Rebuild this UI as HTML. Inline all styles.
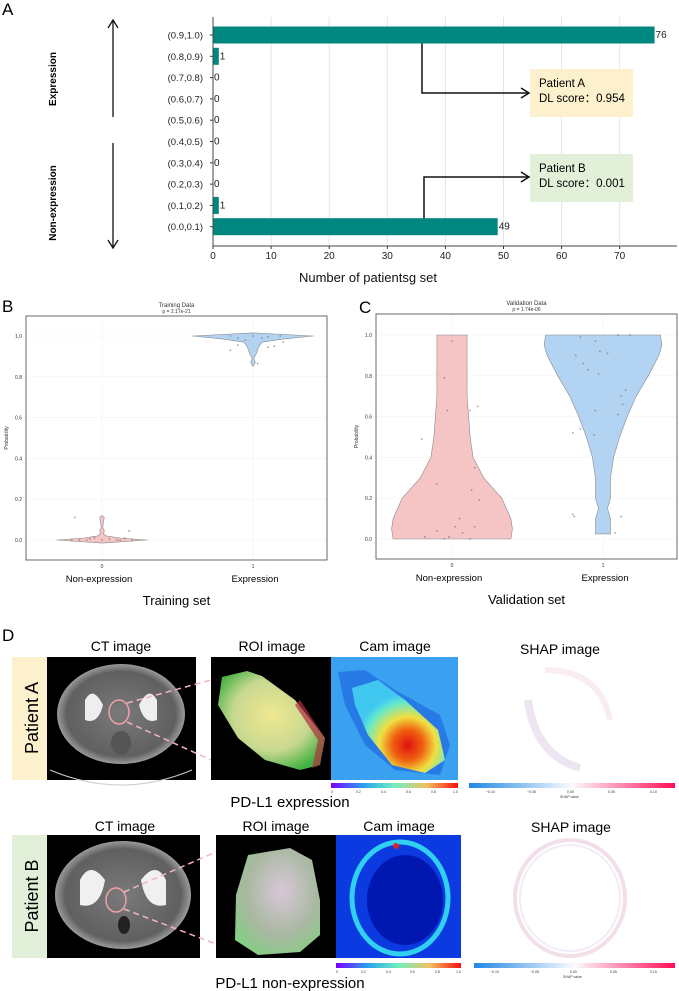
<!DOCTYPE html>
<html><head><meta charset="utf-8"><style>
body{margin:0;background:#fff;}
svg{display:block;font-family:"Liberation Sans",sans-serif;}
</style></head><body>
<svg id="fig" width="679" height="991" viewBox="0 0 679 991" xmlns="http://www.w3.org/2000/svg">
<defs>
<linearGradient id="camcb" x1="0" x2="1"><stop offset="0" stop-color="#7a00ff"/><stop offset="0.25" stop-color="#2aa0f0"/><stop offset="0.5" stop-color="#70f0c0"/><stop offset="0.75" stop-color="#f0c060"/><stop offset="1" stop-color="#ff1010"/></linearGradient>
<linearGradient id="shapcb" x1="0" x2="1"><stop offset="0" stop-color="#1e88e5"/><stop offset="0.5" stop-color="#fbfbff"/><stop offset="1" stop-color="#ff0d57"/></linearGradient>
<radialGradient id="roiA" cx="0.5" cy="0.45" r="0.6"><stop offset="0" stop-color="#f0e890"/><stop offset="0.6" stop-color="#c8d890"/><stop offset="1" stop-color="#40b040"/></radialGradient>
<radialGradient id="roiB" cx="0.55" cy="0.4" r="0.7"><stop offset="0" stop-color="#d8c8d8"/><stop offset="0.6" stop-color="#a8b8a0"/><stop offset="1" stop-color="#80d080"/></radialGradient>
<radialGradient id="camA" cx="0.6" cy="0.7" r="0.55"><stop offset="0" stop-color="#e01010"/><stop offset="0.3" stop-color="#f06010"/><stop offset="0.55" stop-color="#f0e040"/><stop offset="0.85" stop-color="#60e8d0"/><stop offset="1" stop-color="#40c8f0"/></radialGradient>
<radialGradient id="ctbody" cx="0.5" cy="0.5" r="0.5"><stop offset="0" stop-color="#7a7a7a"/><stop offset="0.85" stop-color="#606060"/><stop offset="1" stop-color="#9a9a9a"/></radialGradient>
</defs>
<g id="panelA"></g>
<g id="panelB"></g>
<g id="panelC"></g>
<g id="panelD">
  <text x="2" y="641" font-size="17">D</text>
  <text x="121" y="651" font-size="14" text-anchor="middle">CT image</text>
  <text x="272" y="651" font-size="14" text-anchor="middle">ROI image</text>
  <text x="395" y="651" font-size="14" text-anchor="middle">Cam image</text>
  <text x="560" y="654" font-size="14" text-anchor="middle">SHAP image</text>
  <rect x="12" y="657" width="35" height="123" fill="#fdf0cc"/>
  <text transform="translate(38,718) rotate(-90)" font-size="18" text-anchor="middle">Patient A</text>
  <g>
    <rect x="47" y="657" width="149" height="123" fill="#000"/>
    <ellipse cx="121" cy="714" rx="64" ry="50" fill="url(#ctbody)"/>
    <path d="M85 700 q8 -15 18 5 q-5 20 -18 15z M157 700 q-8 -15 -18 5 q5 20 18 15z" fill="#eee"/>
    <ellipse cx="121" cy="743" rx="10" ry="12" fill="#555"/>
    <path d="M50 770 Q121 800 192 770" stroke="#ccc" fill="none"/>
    <ellipse cx="119" cy="712" rx="10" ry="12" fill="none" stroke="#f0a0a8" stroke-width="1.5"/>
  </g>
  <line x1="127" y1="703" x2="211" y2="680" stroke="#f4b4bc" stroke-width="1.5" stroke-dasharray="6,4"/>
  <line x1="127" y1="722" x2="211" y2="760" stroke="#f4b4bc" stroke-width="1.5" stroke-dasharray="6,4"/>
  <g>
    <rect x="211" y="657" width="120" height="123" fill="#000"/>
    <path d="M222 677 L247 671 L262 676 L295 700 L325 738 L320 765 L300 770 L265 760 L238 738 L218 705 Z" fill="url(#roiA)"/>
    <path d="M300 700 L325 738 L320 765 L312 768 L318 740 L295 705Z" fill="#b03040" opacity="0.7"/>
  </g>
  <g>
    <rect x="331" y="657" width="127" height="123" fill="#3aa0f0"/>
    <path d="M338 672 L365 670 L395 690 L440 715 L450 745 L440 775 L395 770 L365 745 L345 705Z" fill="#1a60e0" opacity="0.6"/>
    <path d="M352 688 L378 680 L405 700 L438 730 L445 760 L425 773 L392 765 L368 735 L355 705 Z" fill="url(#camA)"/>
  </g>
  <rect x="331" y="783" width="127" height="5" fill="url(#camcb)"/>
  <g font-size="3.5" fill="#333"><text x="331" y="793">0</text><text x="356" y="793">0.2</text><text x="381" y="793">0.4</text><text x="406" y="793">0.6</text><text x="431" y="793">0.8</text><text x="453" y="793">1.0</text></g>
  <g>
    <path d="M528 700 Q535 755 580 768" stroke="#c8a8d8" stroke-width="8" fill="none" opacity="0.3"/>
    <path d="M545 670 Q600 670 610 720" stroke="#ecc0d4" stroke-width="6" fill="none" opacity="0.3"/>
  </g>
  <rect x="469" y="783" width="206" height="5" fill="url(#shapcb)"/>
  <g font-size="3.5" fill="#333"><text x="486" y="793">−0.10</text><text x="527" y="793">−0.05</text><text x="567" y="793">0.00</text><text x="608" y="793">0.05</text><text x="650" y="793">0.10</text><text x="560" y="798">SHAP value</text></g>
  <text x="290" y="807" font-size="15" text-anchor="middle">PD-L1 expression</text>
  <text x="125" y="831" font-size="14" text-anchor="middle">CT image</text>
  <text x="276" y="831" font-size="14" text-anchor="middle">ROI image</text>
  <text x="399" y="831" font-size="14" text-anchor="middle">Cam image</text>
  <text x="571" y="832" font-size="14" text-anchor="middle">SHAP image</text>
  <rect x="12" y="835" width="35" height="123" fill="#e2f0d9"/>
  <text transform="translate(38,896) rotate(-90)" font-size="18" text-anchor="middle">Patient B</text>
  <g>
    <rect x="47" y="835" width="153" height="123" fill="#000"/>
    <ellipse cx="123" cy="895" rx="68" ry="54" fill="url(#ctbody)"/>
    <path d="M80 880 q10 -20 25 0 q-5 30 -25 25z M166 880 q-10 -20 -25 0 q5 30 25 25z" fill="#f0f0f0"/>
    <ellipse cx="124" cy="925" rx="6" ry="9" fill="#222"/>
    <ellipse cx="116" cy="900" rx="10" ry="12" fill="none" stroke="#f0a0a8" stroke-width="1.5"/>
  </g>
  <line x1="124" y1="892" x2="216" y2="852" stroke="#f4b4bc" stroke-width="1.5" stroke-dasharray="6,4"/>
  <line x1="124" y1="909" x2="216" y2="944" stroke="#f4b4bc" stroke-width="1.5" stroke-dasharray="6,4"/>
  <g>
    <rect x="216" y="835" width="120" height="123" fill="#000"/>
    <path d="M248 855 L290 848 L312 860 L320 900 L320 935 L300 952 L258 955 L235 940 L236 895 Z" fill="url(#roiB)"/>
  </g>
  <g>
    <rect x="336" y="835" width="125" height="123" fill="#0a3ae0"/>
    <ellipse cx="400" cy="898" rx="48" ry="56" fill="none" stroke="#30d0f0" stroke-width="5"/>
    <ellipse cx="405" cy="900" rx="38" ry="45" fill="#0018b0"/>
    <circle cx="396" cy="846" r="3" fill="#e02020"/>
  </g>
  <rect x="336" y="963" width="125" height="5" fill="url(#camcb)"/>
  <g font-size="3.5" fill="#333"><text x="336" y="973">0</text><text x="361" y="973">0.2</text><text x="386" y="973">0.4</text><text x="410" y="973">0.6</text><text x="435" y="973">0.8</text><text x="456" y="973">1.0</text></g>
  <g>
    <ellipse cx="570" cy="898" rx="55" ry="58" fill="none" stroke="#e8c0d4" stroke-width="4" opacity="0.5"/>
    <ellipse cx="570" cy="898" rx="50" ry="53" fill="none" stroke="#e0d0e8" stroke-width="2" opacity="0.4"/>
  </g>
  <rect x="474" y="963" width="201" height="5" fill="url(#shapcb)"/>
  <g font-size="3.5" fill="#333"><text x="490" y="973">−0.10</text><text x="530" y="973">−0.05</text><text x="570" y="973">0.00</text><text x="610" y="973">0.05</text><text x="650" y="973">0.10</text><text x="563" y="978">SHAP value</text></g>
  <text x="290" y="988" font-size="15" text-anchor="middle">PD-L1 non-expression</text>
</g>
</svg>
<script>
const binLabels = ["(0.9,1.0)","(0.8,0.9)","(0.7,0.8)","(0.6,0.7)","(0.5,0.6)","(0.4,0.5)","(0.3,0.4)","(0.2,0.3)","(0.1,0.2)","(0.0,0.1)"];
const binCounts = [76,1,0,0,0,0,0,0,1,49];
const xTicksA = [0,10,20,30,40,50,60,70];
const violinLevelsTrain0 = [-0.015,0,0.01,0.02,0.03,0.045,0.06,0.09,0.11,0.12];
const violinWidthsTrain0 = [0,0.3,0.12,0.03,0.01,0.015,0.005,0.01,0.015,0];
const violinLevelsTrain1 = [0.85,0.87,0.89,0.91,0.93,0.95,0.97,0.985,1.0,1.015];
const violinWidthsTrain1 = [0,0.015,0.005,0.02,0.03,0.04,0.06,0.2,0.4,0];
const pointsTrain0 = [0.0,0.0,0.01,0.0,0.005,0.0,0.01,0.0,0.0,0.11,0.045,0.0,0.005];
const jitterTrain0 = [-0.15,-0.1,-0.05,0,0.05,0.1,0.15,0.2,-0.2,-0.18,0.18,0.12,-0.08];
const pointsTrain1 = [1.0,0.99,0.98,1.0,0.995,0.93,0.955,0.945,0.95,0.97,0.865,1.0,0.99];
const jitterTrain1 = [-0.15,-0.1,-0.05,0,0.1,-0.15,-0.1,0.1,0.14,0.2,0.03,0.18,0.06];
const violinLevelsVal0 = [0,0.05,0.1,0.2,0.3,0.4,0.5,0.6,0.7,0.8,0.9,1.0];
const violinWidthsVal0 = [0.39,0.4,0.39,0.33,0.21,0.14,0.12,0.11,0.1,0.1,0.1,0.1];
const violinLevelsVal1 = [0.025,0.1,0.15,0.2,0.3,0.4,0.5,0.6,0.7,0.8,0.9,0.95,1.0];
const violinWidthsVal1 = [0.05,0.05,0.03,0.05,0.05,0.07,0.11,0.16,0.22,0.3,0.37,0.39,0.38];
const pointsVal0 = [0.97,0.79,0.63,0.63,0.65,0.49,0.35,0.27,0.24,0.19,0.1,0.06,0.06,0.04,0.03,0.01,0.01,0.0,0.0];
const jitterVal0 = [0,-0.05,-0.03,0.12,0.17,-0.2,0.15,-0.1,0.13,0.18,0.05,0.02,0.15,-0.1,0.07,-0.18,-0.02,0.12,-0.05];
const pointsVal1 = [1.0,1.0,0.99,0.97,0.92,0.91,0.9,0.86,0.83,0.81,0.73,0.7,0.66,0.63,0.61,0.54,0.52,0.51,0.12,0.11,0.11,0.03];
const jitterVal1 = [0.1,0.18,-0.15,-0.05,-0.02,0.03,-0.18,-0.13,-0.1,-0.03,0.15,0.12,0.13,-0.05,0.1,-0.15,-0.2,-0.06,-0.2,-0.19,0.12,0.08];
const yTicksBC = [0.0,0.2,0.4,0.6,0.8,1.0];

const NS="http://www.w3.org/2000/svg";
function mk(parent,tag,attrs,txt){const e=document.createElementNS(NS,tag);for(const k in attrs)e.setAttribute(k,attrs[k]);if(txt!==undefined)e.textContent=txt;parent.appendChild(e);return e;}

(function(){
  const g=document.getElementById('panelA');
  const x0=213, pxPer=5.81, rowTop=35, rowStep=21.3, barH=17;
  const xA=v=>x0+v*pxPer;
  const yA=i=>rowTop+i*rowStep;
  let t=mk(g,'text',{x:2,y:15,'font-size':17},'A');
  
  
  xTicksA.forEach(v=>{
    const l=mk(g,'line',{x1:xA(v),x2:xA(v),y1:17,y2:246,stroke:'#e4e4e4','stroke-width':1});
    
    
    mk(g,'line',{x1:xA(v),x2:xA(v),y1:246,y2:249,stroke:'#333'});
    const tl=mk(g,'text',{x:xA(v),y:259,'font-size':10,'text-anchor':'middle',fill:'#222'},String(v));
    
    
  });
  binLabels.forEach((lab,i)=>{
    const y=yA(i);
    const tl=mk(g,'text',{x:203,y:y+3.5,'font-size':9.5,'text-anchor':'end',fill:'#222'},lab);
    
    
    mk(g,'line',{x1:210,x2:213,y1:y,y2:y,stroke:'#333'});
    const b=mk(g,'rect',{x:x0,y:y-barH/2,width:Math.max(0,xA(binCounts[i])-x0),height:barH,fill:'#00877f'});
    
    
    const v=mk(g,'text',{x:xA(binCounts[i])+1,y:y+3,'font-size':10,fill:'#222'},String(binCounts[i]));
    
    
  });
  mk(g,'line',{x1:x0,x2:x0,y1:17,y2:246,stroke:'#444','stroke-width':1});
  mk(g,'line',{x1:x0,x2:677,y1:246,y2:246,stroke:'#444','stroke-width':1});
  t=mk(g,'text',{x:368,y:282,'font-size':13,'text-anchor':'middle',fill:'#111'},'Number of patientsg set');
  
  
  mk(g,'path',{d:'M113 117 V21 M108 28 L113 20 L118 28',stroke:'#111','stroke-width':1.3,fill:'none'});
  mk(g,'path',{d:'M113 143 V247 M108 240 L113 248 L118 240',stroke:'#111','stroke-width':1.3,fill:'none'});
  t=mk(g,'text',{transform:'translate(56,79) rotate(-90)','font-size':10,'font-weight':'bold','text-anchor':'middle'},'Expression');
  
  
  t=mk(g,'text',{transform:'translate(56,203) rotate(-90)','font-size':10,'font-weight':'bold','text-anchor':'middle'},'Non-expression');
  
  
  const boxes=[{y:69,fill:'#fdf0cc',a:'Patient A',b:'DL score\uff1a0.954',path:'M422 '+(yA(0)+barH/2)+' V93 H528',ay:93,name:'patient-a-callout'},
               {y:154,fill:'#e2f0d9',a:'Patient B',b:'DL score\uff1a0.001',path:'M424 '+(yA(9)-barH/2)+' V177 H528',ay:177,name:'patient-b-callout'}];
  boxes.forEach(bx=>{
    const cg=mk(g,'g',{});
    
    
    mk(cg,'rect',{x:530,y:bx.y,width:103,height:48,fill:bx.fill});
    mk(cg,'text',{x:539,y:bx.y+18,'font-size':11.5},bx.a);
    mk(cg,'text',{x:539,y:bx.y+33,'font-size':11.5},bx.b);
    mk(cg,'path',{d:bx.path,stroke:'#111','stroke-width':1.5,fill:'none'});
    mk(cg,'path',{d:'M521 '+(bx.ay-5)+' L529 '+bx.ay+' L521 '+(bx.ay+5),stroke:'#111','stroke-width':1.5,fill:'none'});
  });
})();

function violinPanel(gid,cfg){
  const g=document.getElementById(gid);
  const {L,R,T,B,y1,y0,cx0,cx1}=cfg;
  const yS=v=>y0+(y1-y0)*v;
  const xS=v=>cx0+(cx1-cx0)*v;
  let t=mk(g,'text',{x:cfg.labX,y:cfg.labY,'font-size':17},cfg.letter);
  
  
  t=mk(g,'text',{x:(L+R)/2,y:T-9,'font-size':6,'text-anchor':'middle',fill:'#333'},cfg.title);
  
  
  t=mk(g,'text',{x:(L+R)/2,y:T-3,'font-size':5,'text-anchor':'middle',fill:'#333'},cfg.p);
  
  
  yTicksBC.forEach(v=>{
    mk(g,'line',{x1:L,x2:R,y1:yS(v),y2:yS(v),stroke:'#e6e6e6','stroke-width':0.6,'stroke-dasharray':'1,1'});
    const tl=mk(g,'text',{x:L-4,y:yS(v)+2,'font-size':5,'text-anchor':'end',fill:'#333'},v.toFixed(1));
    
    
  });
  [0,1].forEach(c=>{
    mk(g,'line',{x1:xS(c),x2:xS(c),y1:T,y2:B,stroke:'#e6e6e6','stroke-width':0.6,'stroke-dasharray':'1,1'});
    const tl=mk(g,'text',{x:xS(c),y:B+8,'font-size':5,'text-anchor':'middle',fill:'#333'},String(c));
    
    
  });
  const vs=[{lv:cfg.lv0,w:cfg.w0,c:0,fill:'#f5c4c4',pts:cfg.p0,j:cfg.j0,n:'violin-non-expression'},
            {lv:cfg.lv1,w:cfg.w1,c:1,fill:'#b2d3f2',pts:cfg.p1,j:cfg.j1,n:'violin-expression'}];
  vs.forEach(v=>{
    let d='';
    v.lv.forEach((l,i)=>{d+=(i?'L':'M')+xS(v.c+v.w[i]).toFixed(1)+' '+yS(l).toFixed(1)+' ';});
    for(let i=v.lv.length-1;i>=0;i--){d+='L'+xS(v.c-v.w[i]).toFixed(1)+' '+yS(v.lv[i]).toFixed(1)+' ';}
    d+='Z';
    const p=mk(g,'path',{d:d,fill:v.fill,stroke:'#8a8a8a','stroke-width':0.6,'stroke-linejoin':'round'});
    
    
    v.pts.forEach((pv,i)=>{
      const c=mk(g,'circle',{cx:xS(v.c+v.j[i]),cy:yS(pv),r:0.9,fill:'#777',opacity:0.7});
      
      
    });
  });
  mk(g,'rect',{x:L,y:T,width:R-L,height:B-T,fill:'none',stroke:'#444','stroke-width':0.8});
  t=mk(g,'text',{transform:'translate('+cfg.ylabX+','+((T+B)/2)+') rotate(-90)','font-size':5,'text-anchor':'middle',fill:'#333'},'Probability');
  
  
  t=mk(g,'text',{x:xS(0)-3,y:B+22,'font-size':9.5,'text-anchor':'middle'},'Non-expression');
  
  
  t=mk(g,'text',{x:xS(1)+2,y:B+22,'font-size':9.5,'text-anchor':'middle'},'Expression');
  
  
  t=mk(g,'text',{x:(L+R)/2,y:B+45,'font-size':13,'text-anchor':'middle'},cfg.set);
  
  
}
violinPanel('panelB',{L:26,R:327,T:316,B:560,y1:336,y0:540,cx0:102,cx1:253,letter:'B',labX:2,labY:312,
  title:'Training Data',p:'p = 2.17e-21',set:'Training set',ylabX:8,
  lv0:violinLevelsTrain0,w0:violinWidthsTrain0,lv1:violinLevelsTrain1,w1:violinWidthsTrain1,
  p0:pointsTrain0,j0:jitterTrain0,p1:pointsTrain1,j1:jitterTrain1});
violinPanel('panelC',{L:376,R:677,T:314,B:559,y1:335,y0:539,cx0:452,cx1:603,letter:'C',labX:359,labY:313,
  title:'Validation Data',p:'p = 1.74e-06',set:'Validation set',ylabX:358,
  lv0:violinLevelsVal0,w0:violinWidthsVal0,lv1:violinLevelsVal1,w1:violinWidthsVal1,
  p0:pointsVal0,j0:jitterVal0,p1:pointsVal1,j1:jitterVal1});
</script>
</body></html>
